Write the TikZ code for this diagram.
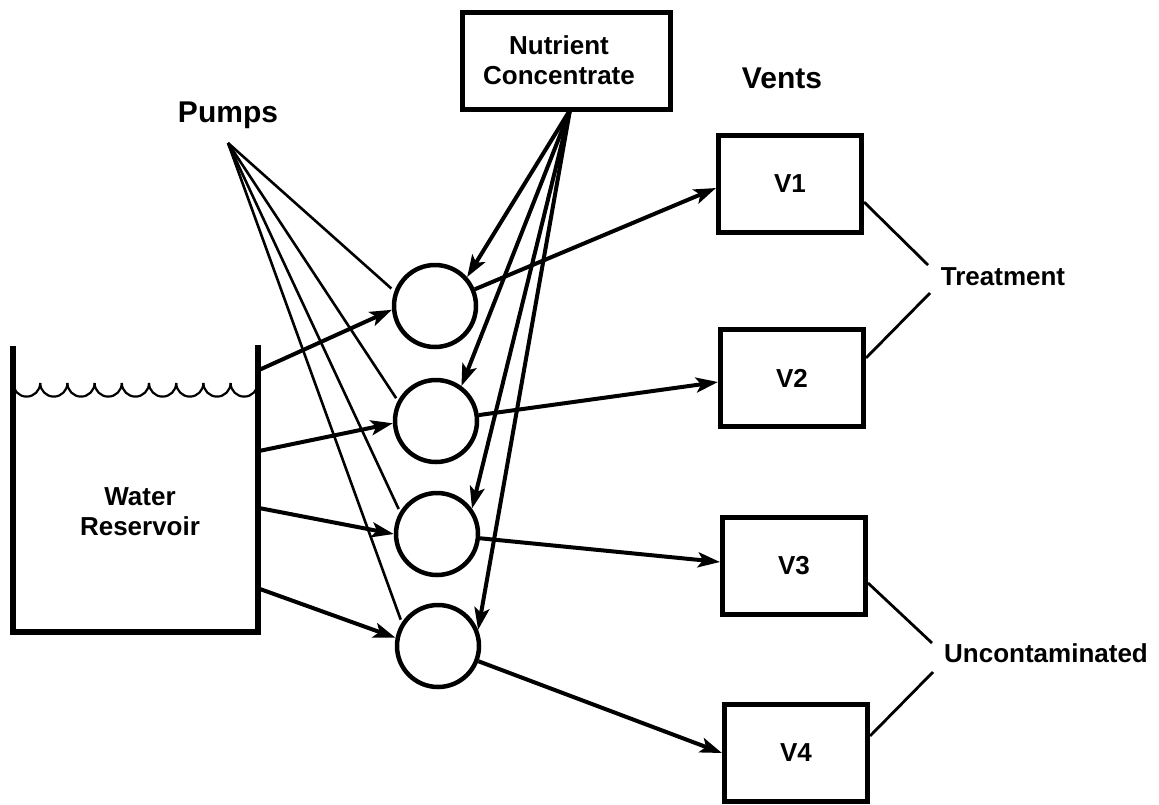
\documentclass[tikz,border=0pt]{standalone}
\usepackage{fontspec}
\setmainfont{Liberation Sans}
\usetikzlibrary{arrows.meta}
\begin{document}
\begin{tikzpicture}[x=1pt,y=-1pt,
  lbl/.style={font=\bfseries\fontsize{26}{30}\selectfont, align=center, inner sep=0pt},
  biglbl/.style={font=\bfseries\fontsize{30}{34}\selectfont, inner sep=0pt},
  vent/.style={draw, line width=5pt, minimum width=143pt, minimum height=97pt, font=\bfseries\fontsize{26}{30}\selectfont},
  pump/.style={draw, circle, line width=4.5pt, minimum size=82pt, inner sep=0pt},
  flow/.style={line width=4pt, -{Stealth[length=22pt,width=15pt,inset=5pt]}},
  thinline/.style={line width=2.6pt},
  tagline/.style={line width=2.8pt}
]
\useasboundingbox (0,0) rectangle (1159,804);

% nutrient box
\node[draw, line width=5pt, minimum width=208pt, minimum height=97pt] (nc) at (566,61) {};
\node[lbl] (nctext) at (559,60) {Nutrient\\Concentrate};
\coordinate (ns) at (570,110);

% labels
\node[biglbl] (pumps) at (228,115) {Pumps};
\node[biglbl] (vents) at (782,78) {Vents};
\coordinate (pp) at (228,143);

% pumps
\node[pump] (c1) at (435,306) {};
\node[pump] (c2) at (436,421) {};
\node[pump] (c3) at (437,534) {};
\node[pump] (c4) at (438,646) {};

% vents
\node[vent] (v1) at (790,184) {V1};
\node[vent] (v2) at (792,378) {V2};
\node[vent] (v3) at (794,566) {V3};
\node[vent] (v4) at (796,753) {V4};

% reservoir
\draw[line width=5.5pt, line join=miter] (13,346) -- (13,632) -- (258,632) -- (258,345);
\foreach \i in {0,...,8}
  \draw[line width=2.2pt] (13+27.2*\i,383) arc[start angle=180,end angle=360,radius=13.6pt];
\node[lbl] (wr) at (140,512) {Water\\Reservoir};
\coordinate (r1) at (259,370);
\coordinate (r2) at (259,451);
\coordinate (r3) at (259,508);
\coordinate (r4) at (260,589);

% reservoir -> pumps
\draw[flow] (r1) -- (c1.185);
\draw[flow] (r2) -- (c2.183);
\draw[flow] (r3) -- (c3.west);
\draw[flow] (r4) -- (c4.169);

% pumps label lines
\draw[thinline, shorten >=4pt] (pp) -- (c1.160);
\draw[thinline, shorten >=3pt] (pp) -- (c2.152);
\draw[thinline, shorten >=3pt] (pp) -- (c3.149);
\draw[thinline, shorten >=3pt] (pp) -- (c4.147);

% nutrient -> pumps
\draw[flow] (ns) -- (c1.42);
\draw[flow] (ns) -- (c2.54);
\draw[flow] (ns) -- (c3.36);
\draw[flow] (ns) -- (c4.22);

% pumps -> vents
\draw[flow] (c1) -- ([yshift=-4pt]v1.west);
\draw[flow] (c2) -- ([yshift=-4pt]v2.west);
\draw[flow] (c3) -- ([yshift=4pt]v3.west);
\draw[flow] (c4) -- (v4.west);

% group labels
\node[lbl] (treat) at (1003,277) {Treatment};
\node[lbl] (uncon) at (1046,653) {Uncontaminated};
\coordinate (t1) at (928,265);
\coordinate (t2) at (930,293);
\coordinate (u1) at (932,643);
\coordinate (u2) at (933,672);
\draw[tagline] ([yshift=-18pt]v1.east) -- (t1);
\draw[tagline] ([yshift=20pt]v2.east) -- (t2);
\draw[tagline] ([yshift=-17pt]v3.east) -- (u1);
\draw[tagline] ([yshift=17pt]v4.east) -- (u2);
\end{tikzpicture}
\end{document}
